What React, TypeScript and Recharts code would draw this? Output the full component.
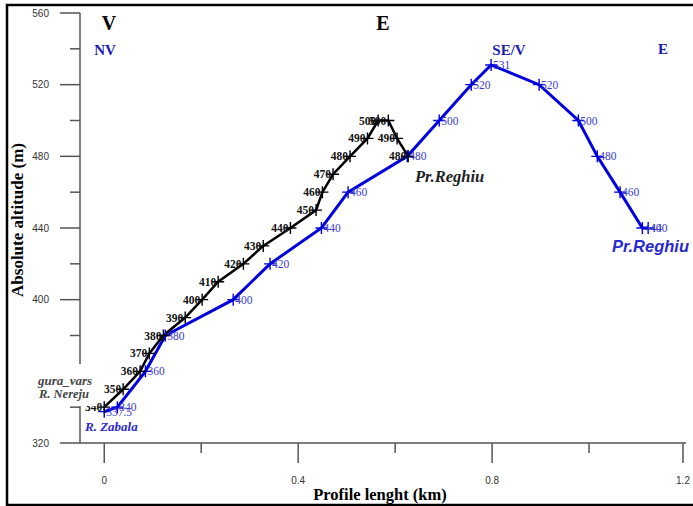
import { LineChart, Line, XAxis, YAxis, LabelList } from 'recharts';

// V profile (black) - distance along profile (km) and altitude (m)
const vDist = [0, 0.039, 0.074, 0.093, 0.122, 0.167, 0.202, 0.235, 0.287, 0.328, 0.384, 0.437, 0.45, 0.472, 0.507, 0.543, 0.565, 0.586, 0.604, 0.627];
const vAlt = [340, 350, 360, 370, 380, 390, 400, 410, 420, 430, 440, 450, 460, 470, 480, 490, 500, 500, 490, 480];

// NV - SE/V - E profile (blue)
const eDist = [0, 0.027, 0.085, 0.126, 0.266, 0.342, 0.448, 0.503, 0.625, 0.691, 0.757, 0.798, 0.897, 0.978, 1.017, 1.064, 1.11, 1.122];
const eAlt = [337.5, 340, 360, 380, 400, 420, 440, 460, 480, 500, 520, 531, 520, 500, 480, 460, 440, 440];

const xTicks = [0, 0.2, 0.4, 0.6, 0.8, 1.0, 1.2];
const yTicks = [320, 340, 360, 380, 400, 420, 440, 460, 480, 500, 520, 540, 560];

const vData = vDist.map((x, i) => ({ x, y: vAlt[i] }));
const eData = eDist.map((x, i) => ({ x, y: eAlt[i] }));

const SERIF = '"Liberation Serif", "Times New Roman", serif';
const SANS = '"Liberation Sans", Arial, sans-serif';
const AXIS = '#555';
const BLUE = '#0000dd';
const BLUE_TEXT = '#3b3bd0';
const TITLE_BLUE = '#1a1ab5';

const XTick = ({ x, y, payload, index }: any) => {
  const major = index % 2 === 0;
  return (
    <g>
      <line x1={x} y1={y} x2={x} y2={y + (major ? 20 : 10)} stroke={AXIS} strokeWidth={1.5} />
      {major && (
        <text x={x} y={y + 41} textAnchor="middle" fontFamily={SANS} fontSize={10} fill="#333">
          {payload.value}
        </text>
      )}
    </g>
  );
};

const YTick = ({ x, y, payload }: any) => {
  const major = (payload.value - 320) % 40 === 0;
  return (
    <g>
      <line x1={x - (major ? 20 : 10)} y1={y} x2={x} y2={y} stroke={AXIS} strokeWidth={1.5} />
      {major && (
        <text x={x - 31} y={y + 3.5} textAnchor="end" fontFamily={SANS} fontSize={10} fill="#333">
          {payload.value}
        </text>
      )}
    </g>
  );
};

const cross = (color: string) => (props: any) => {
  const { cx, cy, index } = props;
  return (
    <path
      key={`c-${index}`}
      d={`M${cx - 6},${cy}h12M${cx},${cy - 6}v12`}
      stroke={color}
      strokeWidth={1.4}
      fill="none"
    />
  );
};

const BlackLabel = (props: any) => {
  const { x, y, value } = props;
  return (
    <text x={x - 2} y={y + 4} textAnchor="end" fontFamily={SERIF} fontWeight="bold" fontSize={11.5} fill="#111">
      {value}
    </text>
  );
};

const BlueLabel = (props: any) => {
  const { x, y, value } = props;
  return (
    <text x={x + 2} y={y + 4} textAnchor="start" fontFamily={SERIF} fontSize={11.5} fill={BLUE_TEXT}>
      {value}
    </text>
  );
};

export default function App() {
  return (
    <div style={{ position: 'absolute', left: 0, top: 0, width: 693, height: 506, background: '#fff', overflow: 'hidden' }}>
      <LineChart width={693} height={506} margin={{ top: 13, right: 7, bottom: 0, left: 0 }}>
        <XAxis
          type="number"
          dataKey="x"
          domain={[-0.05, 1.2]}
          ticks={xTicks}
          allowDataOverflow
          height={63}
          tickLine={false}
          tickSize={0}
          tickMargin={0}
          tick={XTick}
          axisLine={{ stroke: AXIS, strokeWidth: 1.5 }}
        />
        <YAxis
          type="number"
          dataKey="y"
          domain={[320, 560]}
          ticks={yTicks}
          allowDataOverflow
          width={80}
          tickLine={false}
          tickSize={0}
          tickMargin={0}
          tick={YTick}
          axisLine={{ stroke: AXIS, strokeWidth: 1.5 }}
        />
        <Line
          data={eData}
          dataKey="y"
          type="linear"
          stroke={BLUE}
          strokeWidth={3}
          dot={cross(BLUE)}
          isAnimationActive={false}
        >
          <LabelList dataKey="y" content={BlueLabel} />
        </Line>
        <Line
          data={vData}
          dataKey="y"
          type="linear"
          stroke="#000"
          strokeWidth={2.5}
          dot={cross('#000')}
          isAnimationActive={false}
        >
          <LabelList dataKey="y" content={BlackLabel} />
        </Line>
      </LineChart>
      <svg
        width={693}
        height={506}
        style={{ position: 'absolute', left: 0, top: 0, pointerEvents: 'none' }}
      >
        <rect x={7} y={5} width={700} height={500} fill="none" stroke="#000" strokeWidth={2.5} />
        {/* label box that hides part of the axis, as in the source */}
        <rect x={28} y={364} width={69} height={42} fill="#fff" />
        <text x={38} y={385} fontFamily={SERIF} fontWeight="bold" fontStyle="italic" fontSize={13} fill="#444">gura_vars</text>
        <text x={39} y={398} fontFamily={SERIF} fontWeight="bold" fontStyle="italic" fontSize={12.5} fill="#444">R. Nereju</text>
        <text x={109} y={30} textAnchor="middle" fontFamily={SERIF} fontWeight="bold" fontSize={20} fill="#000">V</text>
        <text x={105} y={55} textAnchor="middle" fontFamily={SERIF} fontWeight="bold" fontSize={15} fill={TITLE_BLUE}>NV</text>
        <text x={383} y={30} textAnchor="middle" fontFamily={SERIF} fontWeight="bold" fontSize={20} fill="#000">E</text>
        <text x={509} y={55} textAnchor="middle" fontFamily={SERIF} fontWeight="bold" fontSize={15} fill={TITLE_BLUE}>SE/V</text>
        <text x={663} y={54} textAnchor="middle" fontFamily={SERIF} fontWeight="bold" fontSize={15} fill={TITLE_BLUE}>E</text>
        <text x={415} y={182} fontFamily={SERIF} fontWeight="bold" fontStyle="italic" fontSize={16.5} fill="#222">Pr.Reghiu</text>
        <text x={612} y={252} fontFamily={SANS} fontWeight="bold" fontStyle="italic" fontSize={16.5} fill="#2a2acc">Pr.Reghiu</text>
        <text x={85} y={431} fontFamily={SERIF} fontWeight="bold" fontStyle="italic" fontSize={13} fill="#2a2acc">R. Zabala</text>
        <text
          transform="translate(23,220) rotate(-90)"
          textAnchor="middle"
          fontFamily={SERIF}
          fontWeight="bold"
          fontSize={17}
          fill="#000"
        >
          Absolute altitude (m)
        </text>
        <text x={380} y={500} textAnchor="middle" fontFamily={SERIF} fontWeight="bold" fontSize={16.5} fill="#000">
          Profile lenght (km)
        </text>
      </svg>
    </div>
  );
}
